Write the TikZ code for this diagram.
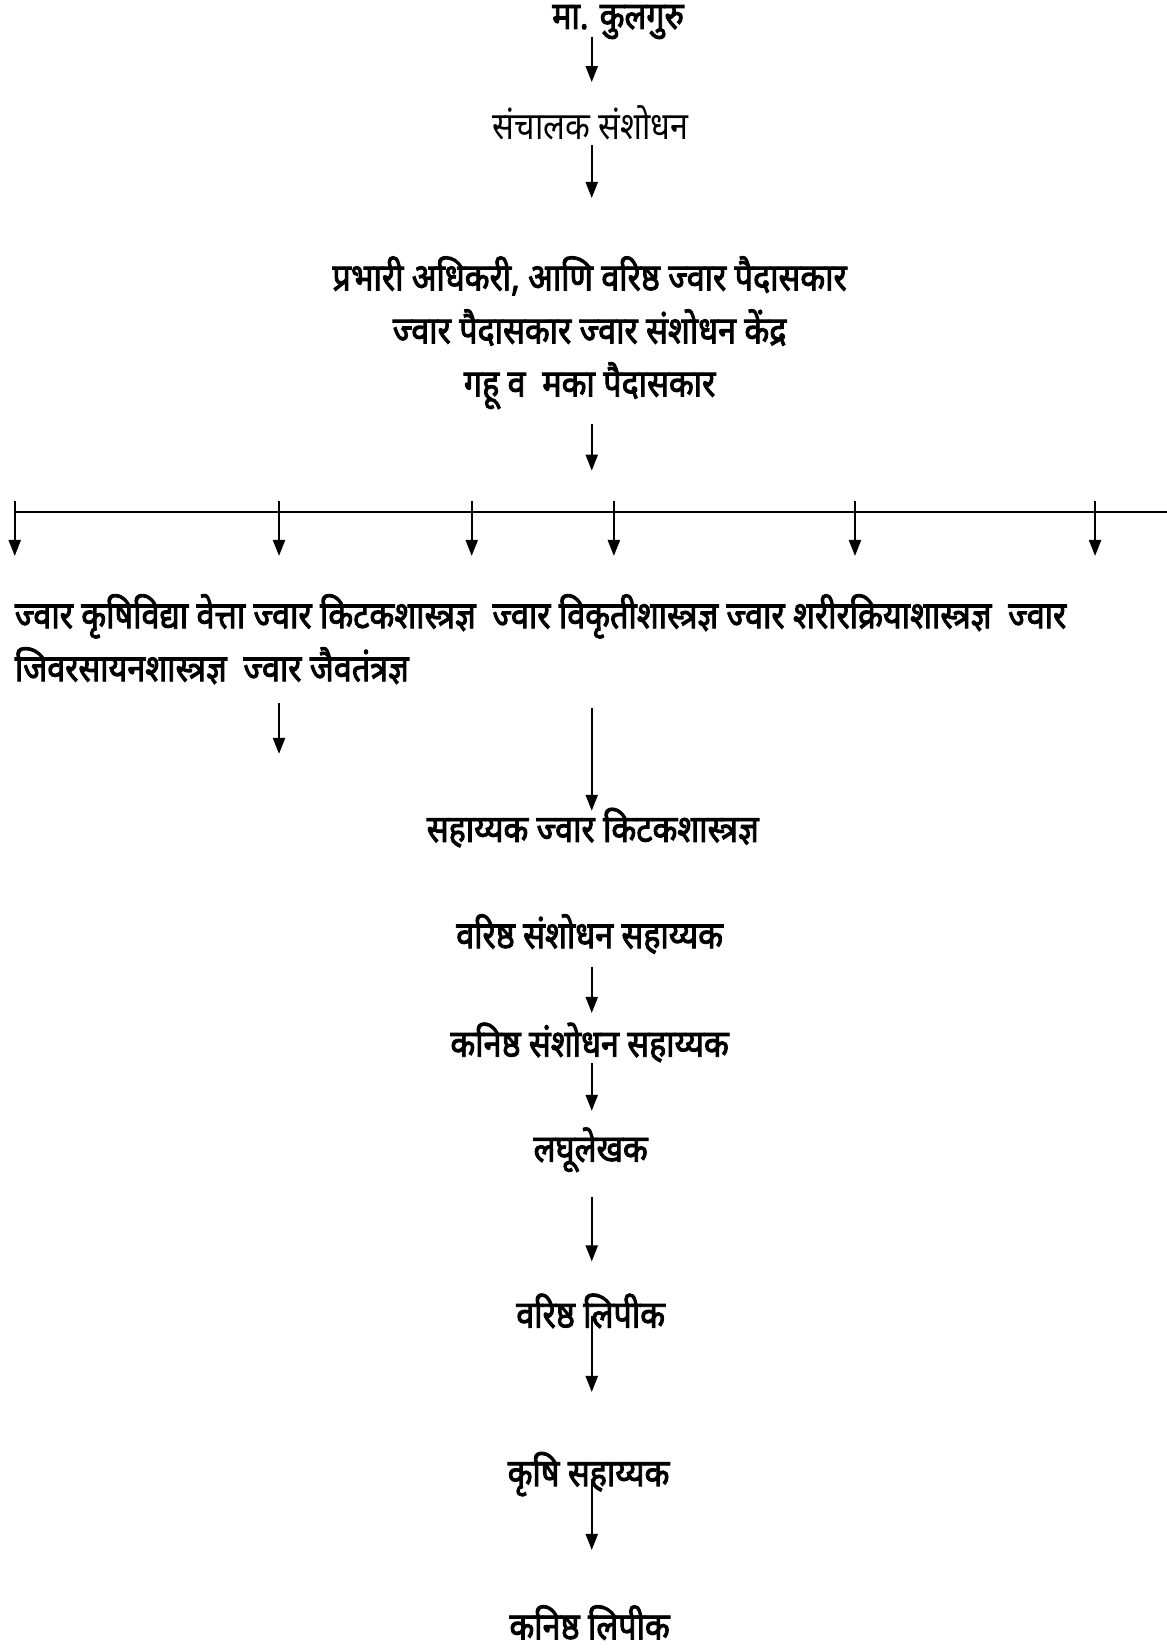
\documentclass[tikz,border=0pt]{standalone}
\usepackage{fontspec}
\setmainfont{Noto Sans}[Script=Devanagari, FakeStretch=0.85,
    BoldFont={Noto Sans}, BoldFeatures={FakeBold=2.4}]
\usetikzlibrary{arrows.meta}

\tikzset{
    post/.style={draw, line width=2.2pt, -{Triangle[length=16pt,width=12pt]}},
    title/.style={font=\bfseries\fontsize{38}{53}\selectfont, inner sep=0pt, align=center},
    plain/.style={font=\fontsize{38}{53}\selectfont, inner sep=0pt, align=center},
}

\begin{document}
\begin{tikzpicture}[x=1.053pt, y=-1.053pt]
        \useasboundingbox (0,0) rectangle (1108,1568);
        % posts
        \node[title] (kul) at (587,21) {मा. कुलगुरु};
        \node[plain] (dir) at (561,117) {संचालक संशोधन};
        \node[title] (incharge) at (560,316) {प्रभारी अधिकरी, आणि वरिष्ठ ज्वार पैदासकार\\ज्वार पैदासकार ज्वार संशोधन केंद्र\\गहू व ~मका पैदासकार};
        \node[title, anchor=west, align=left] (sci) at (14,607) {ज्वार कृषिविद्या वेत्ता ज्वार किटकशास्त्रज्ञ ~ज्वार विकृतीशास्त्रज्ञ ज्वार शरीरक्रियाशास्त्रज्ञ ~ज्वार\\जिवरसायनशास्त्रज्ञ ~ज्वार जैवतंत्रज्ञ};
        \node[title] (asst) at (563,786) {सहाय्यक ज्वार किटकशास्त्रज्ञ};
        \node[title] (sra) at (560,887) {वरिष्ठ संशोधन सहाय्यक};
        \node[title] (jra) at (560,990) {कनिष्ठ संशोधन सहाय्यक};
        \node[title] (steno) at (561,1092) {लघूलेखक};
        \node[title] (sclerk) at (561,1245) {वरिष्ठ लिपीक};
        \node[title] (agri) at (559,1400) {कृषि सहाय्यक};
        \node[title] (jclerk) at (560,1541) {कनिष्ठ लिपीक};

        % main line
        \foreach \i/\ya/\yb in {1/35/78, 2/138/188, 3/403/447, 4/672/770, 5/918/962, 6/1010/1055, 7/1137/1198, 8/1250/1322, 9/1405/1472}{
            \coordinate (s\i) at (562,\ya);
            \coordinate (e\i) at (562,\yb);
            \draw[post] (s\i) -- (e\i);
        }

        % branch bar
        \coordinate (barL) at (13,486);
        \coordinate (barR) at (1108,486);
        \draw[line width=2.2pt] (barL) -- (barR);
        \foreach \x [count=\k] in {14,265,448,583,812,1040}{
            \coordinate (d\k) at (\x,476);
            \coordinate (f\k) at (\x,528);
            \draw[post] (d\k) -- (f\k);
        }
        \coordinate (bs) at (265,668);
        \coordinate (be) at (265,716);
        \draw[post] (bs) -- (be);
\end{tikzpicture}
\end{document}
